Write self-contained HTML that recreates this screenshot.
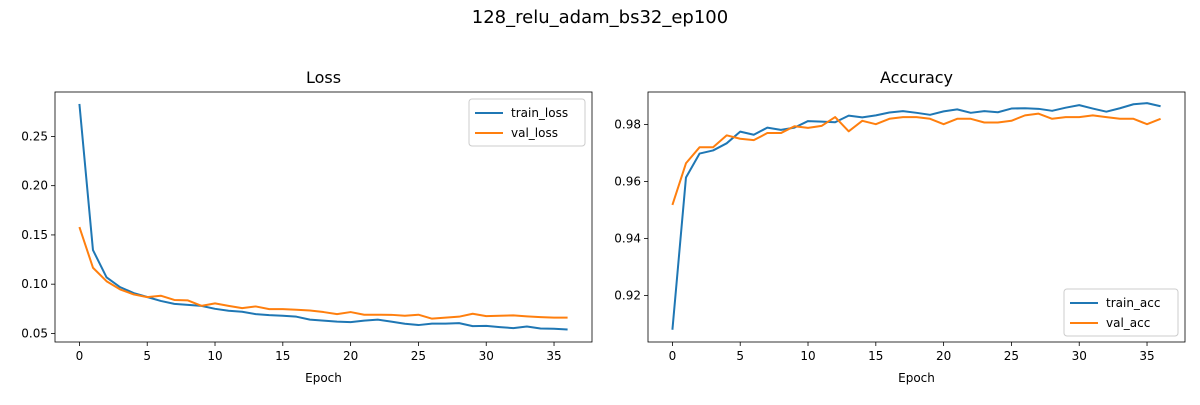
<!DOCTYPE html>
<html><head><meta charset="utf-8"><style>
body{margin:0;background:#fff;font-family:"Liberation Sans",sans-serif}
svg text{font-family:"DejaVu Sans","Liberation Sans",sans-serif;fill:#000}
</style></head><body>
<svg id="fig" width="1200" height="400" viewBox="0 0 1200 400" xmlns="http://www.w3.org/2000/svg">
<rect width="1200" height="400" fill="#fff"/>
<text x="600" y="23" font-size="18" text-anchor="middle">128_relu_adam_bs32_ep100</text>
</svg>
<script>
const epochs=[...Array(37).keys()];
const trainLoss=[0.283,0.1346,0.107,0.097,0.091,0.087,0.083,0.080,0.079,0.078,0.075,0.073,0.072,0.0696,0.0686,0.068,0.067,0.064,0.063,0.062,0.0615,0.063,0.064,0.062,0.0598,0.0585,0.060,0.060,0.0605,0.0574,0.0577,0.0564,0.0554,0.057,0.055,0.0547,0.054];
const valLoss=[0.158,0.1167,0.103,0.0947,0.0896,0.0869,0.0883,0.084,0.0835,0.078,0.0805,0.078,0.0757,0.0774,0.0747,0.0747,0.074,0.0733,0.0717,0.0696,0.0717,0.069,0.069,0.0689,0.068,0.069,0.065,0.066,0.067,0.070,0.0676,0.068,0.0683,0.0673,0.0666,0.066,0.066];
const trainAcc=[0.908,0.9614,0.9698,0.9709,0.9734,0.9775,0.9764,0.9789,0.9781,0.9789,0.9812,0.981,0.9808,0.9831,0.9825,0.9832,0.9842,0.9847,0.9841,0.9834,0.9846,0.9853,0.9841,0.9847,0.9843,0.9856,0.9857,0.9855,0.9848,0.9859,0.9868,0.9856,0.9845,0.9857,0.9871,0.9875,0.9864];
const valAcc=[0.9518,0.9664,0.972,0.972,0.9762,0.975,0.9745,0.977,0.977,0.9794,0.9788,0.9795,0.9826,0.9776,0.9813,0.9801,0.982,0.9826,0.9826,0.982,0.9801,0.982,0.982,0.9807,0.9807,0.9813,0.9832,0.9838,0.982,0.9826,0.9826,0.9832,0.9826,0.982,0.982,0.9801,0.982];
const xTicks=[0,5,10,15,20,25,30,35];
const lossTicks=[0.05,0.10,0.15,0.20,0.25];
const accTicks=[0.92,0.94,0.96,0.98];
const NS="http://www.w3.org/2000/svg";
const svg=document.getElementById('fig');
function mk(tag,attrs,parent){const e=document.createElementNS(NS,tag);for(const k in attrs)e.setAttribute(k,attrs[k]);(parent||svg).appendChild(e);return e;}
function panel(key,title,L,T,W,H,x0,x1,y0,y1,yTicks,yfmt,series,legendPos){
  const g=mk('g',{});
  
  
  const X=v=>L+(v-x0)/(x1-x0)*W, Y=v=>T+H-(v-y0)/(y1-y0)*H;
  const t=mk('text',{x:L+W/2,y:T-9,'font-size':16,'text-anchor':'middle'},g);t.textContent=title;
  
  
  xTicks.forEach(v=>{mk('line',{x1:X(v),x2:X(v),y1:T+H,y2:T+H+4,stroke:'#000','stroke-width':0.8},g);
    const l=mk('text',{x:X(v),y:T+H+18,'font-size':12,'text-anchor':'middle'},g);l.textContent=v;
    
    });
  yTicks.forEach(v=>{mk('line',{x1:L-4,x2:L,y1:Y(v),y2:Y(v),stroke:'#000','stroke-width':0.8},g);
    const l=mk('text',{x:L-7,y:Y(v)+4,'font-size':12,'text-anchor':'end'},g);l.textContent=yfmt(v);
    
    });
  const xl=mk('text',{x:L+W/2,y:T+H+40,'font-size':12,'text-anchor':'middle'},g);xl.textContent='Epoch';
  
  
  series.forEach(s=>{const p=mk('polyline',{points:s.data.map((v,i)=>X(epochs[i])+','+Y(v)).join(' '),fill:'none',stroke:s.color,'stroke-width':2,'stroke-linejoin':'round'},g);
    
    });
  mk('rect',{x:L,y:T,width:W,height:H,fill:'none',stroke:'#000','stroke-width':0.8},g);
  const lg=mk('g',{},g);
  
  
  const [lx,ly,lw]=legendPos;
  mk('rect',{x:lx,y:ly,width:lw,height:47,rx:3,fill:'#fff','fill-opacity':0.8,stroke:'#ccc'},lg);
  series.forEach((s,i)=>{const yy=ly+14+i*20;
    mk('line',{x1:lx+6,x2:lx+34,y1:yy,y2:yy,stroke:s.color,'stroke-width':2},lg);
    const tx=mk('text',{x:lx+42,y:yy+4,'font-size':12},lg);tx.textContent=s.name;
    
    });
}
panel('loss','Loss',55,92,537,250,-1.8,37.8,0.0413,0.2951,lossTicks,v=>v.toFixed(2),
  [{name:'train_loss',data:trainLoss,color:'#1f77b4'},{name:'val_loss',data:valLoss,color:'#ff7f0e'}],[469,99,116]);
panel('acc','Accuracy',648,92,537,250,-1.8,37.8,0.9037,0.9914,accTicks,v=>v.toFixed(2),
  [{name:'train_acc',data:trainAcc,color:'#1f77b4'},{name:'val_acc',data:valAcc,color:'#ff7f0e'}],[1064,289,114]);
</script>
</body></html>
